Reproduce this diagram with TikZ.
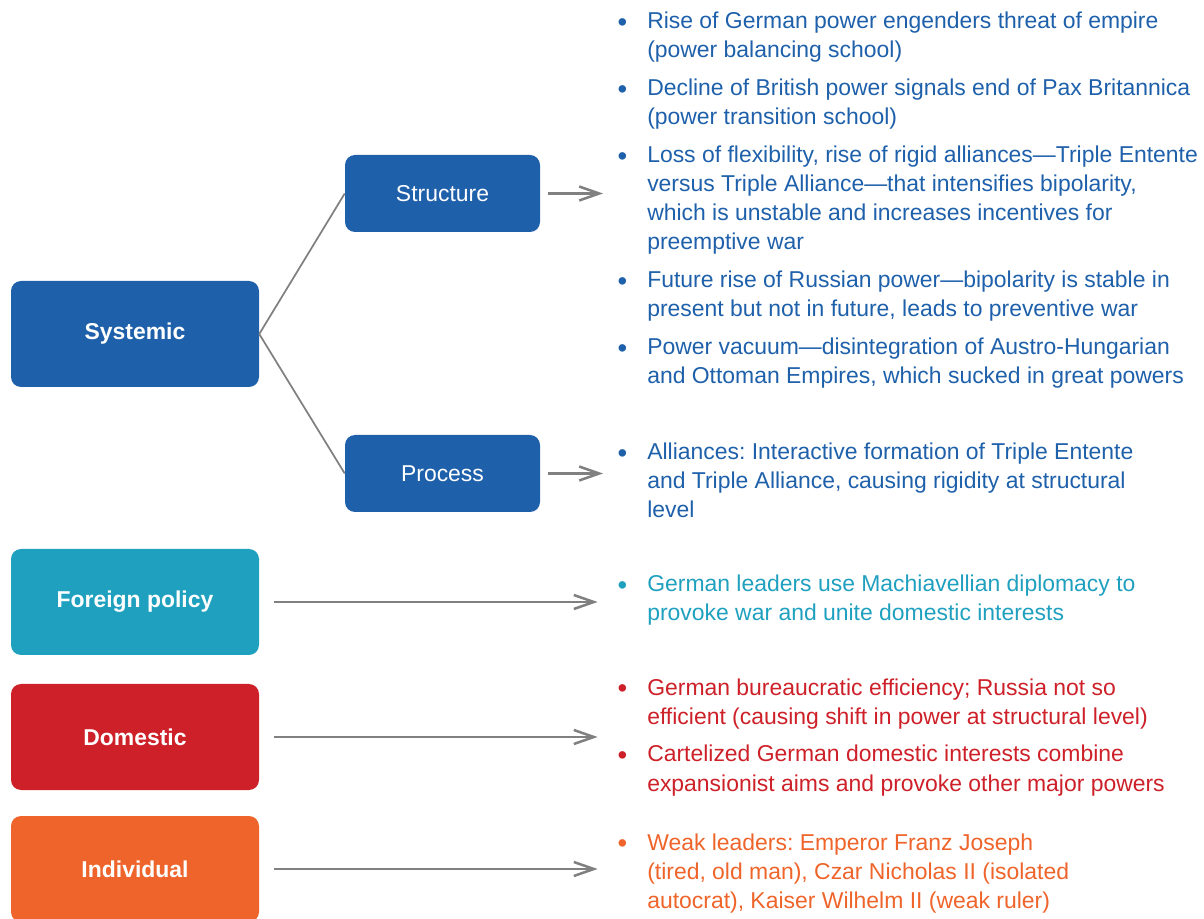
\documentclass[tikz,border=0pt]{standalone}
\usepackage{fontspec}
\setmainfont{Liberation Sans}
\usetikzlibrary{arrows.meta}

\definecolor{sysblue}{RGB}{30,96,170}
\definecolor{fpteal}{RGB}{32,160,191}
\definecolor{domred}{RGB}{205,32,40}
\definecolor{indorange}{RGB}{238,100,42}
\definecolor{linkgray}{RGB}{128,128,128}

\newcommand{\bodysize}{\fontsize{17.2}{21.75}\selectfont\frenchspacing}
\newcommand{\itm}{\llap{\raisebox{-1.6pt}{\scalebox{1.2}{\textbullet}}\hspace{15pt}}}

\tikzset{
  levelbox/.style={rectangle, rounded corners=7.5pt, text=white, inner sep=0pt,
    minimum width=186pt, minimum height=79.5pt, font=\bodysize\bfseries},
  subbox/.style={rectangle, rounded corners=7.5pt, text=white, inner sep=0pt, fill=sysblue,
    minimum width=146.25pt, minimum height=57.75pt, font=\bodysize},
  itemlist/.style={anchor=base west, align=left, inner sep=0pt, font=\bodysize},
  link/.style={draw=linkgray, line width=1.3pt},
  arr/.style={draw=linkgray, line width=1.9pt, -{Straight Barb[length=15pt,width=10.5pt,line width=1.9pt]}}
}

\begin{document}
\begin{tikzpicture}[x=0.75pt,y=0.75pt,yscale=-1,xscale=1]
\useasboundingbox (0,0) rectangle (1204,919);

%Shape: level boxes
\node [levelbox, fill=sysblue] (systemic) at (135,334) {Systemic};
\node [levelbox, fill=fpteal] (foreign) at (135,602) {Foreign policy};
\node [levelbox, fill=domred] (domestic) at (135,737) {Domestic};
\node [levelbox, fill=indorange] (individual) at (135,869) {Individual};

%Shape: systemic sub-boxes
\node [subbox] (structure) at (442.5,193.5) {Structure};
\node [subbox] (process) at (442.5,473.5) {Process};

% Text Node (placed by the baseline of the last line)
\node [itemlist, text=sysblue] (structlist) at (647,384) {%
\itm Rise of German power engenders threat of empire\\
(power balancing school)\\[6.75pt]
\itm Decline of British power signals end of Pax Britannica\\
(power transition school)\\[6.75pt]
\itm Loss of flexibility, rise of rigid alliances---Triple Entente\\
versus Triple Alliance---that intensifies bipolarity,\\
which is unstable and increases incentives for\\
preemptive war\\[6.75pt]
\itm Future rise of Russian power---bipolarity is stable in\\
present but not in future, leads to preventive war\\[6.75pt]
\itm Power vacuum---disintegration of Austro-Hungarian\\
and Ottoman Empires, which sucked in great powers};
% Text Node
\node [itemlist, text=sysblue] (proclist) at (647,518) {%
\itm Alliances: Interactive formation of Triple Entente\\
and Triple Alliance, causing rigidity at structural\\
level};
% Text Node
\node [itemlist, text=fpteal] (foreignlist) at (647,621) {%
\itm German leaders use Machiavellian diplomacy to\\
provoke war and unite domestic interests};
% Text Node
\node [itemlist, text=domred] (domlist) at (647,791) {%
\itm German bureaucratic efficiency; Russia not so\\
efficient (causing shift in power at structural level)\\[6.75pt]
\itm Cartelized German domestic interests combine\\
expansionist aims and provoke other major powers};
% Text Node
\node [itemlist, text=indorange] (indlist) at (647,908) {%
\itm Weak leaders: Emperor Franz Joseph\\
(tired, old man), Czar Nicholas II (isolated\\
autocrat), Kaiser Wilhelm II (weak ruler)};

%Straight Lines
\draw [link] (systemic.east) -- (structure.west);
\draw [link] (systemic.east) -- (process.west);

%Straight Lines with arrows
\draw [arr, shorten <=6pt, shorten >=33pt] (structure.east) -- (structure.east -| structlist.west);
\draw [arr, shorten <=6pt, shorten >=33pt] (process.east) -- (process.east -| proclist.west);
\draw [arr, shorten <=11pt, shorten >=37pt] (foreign.east) -- (foreign.east -| foreignlist.west);
\draw [arr, shorten <=11pt, shorten >=37pt] (domestic.east) -- (domestic.east -| domlist.west);
\draw [arr, shorten <=11pt, shorten >=37pt] (individual.east) -- (individual.east -| indlist.west);

\end{tikzpicture}
\end{document}
